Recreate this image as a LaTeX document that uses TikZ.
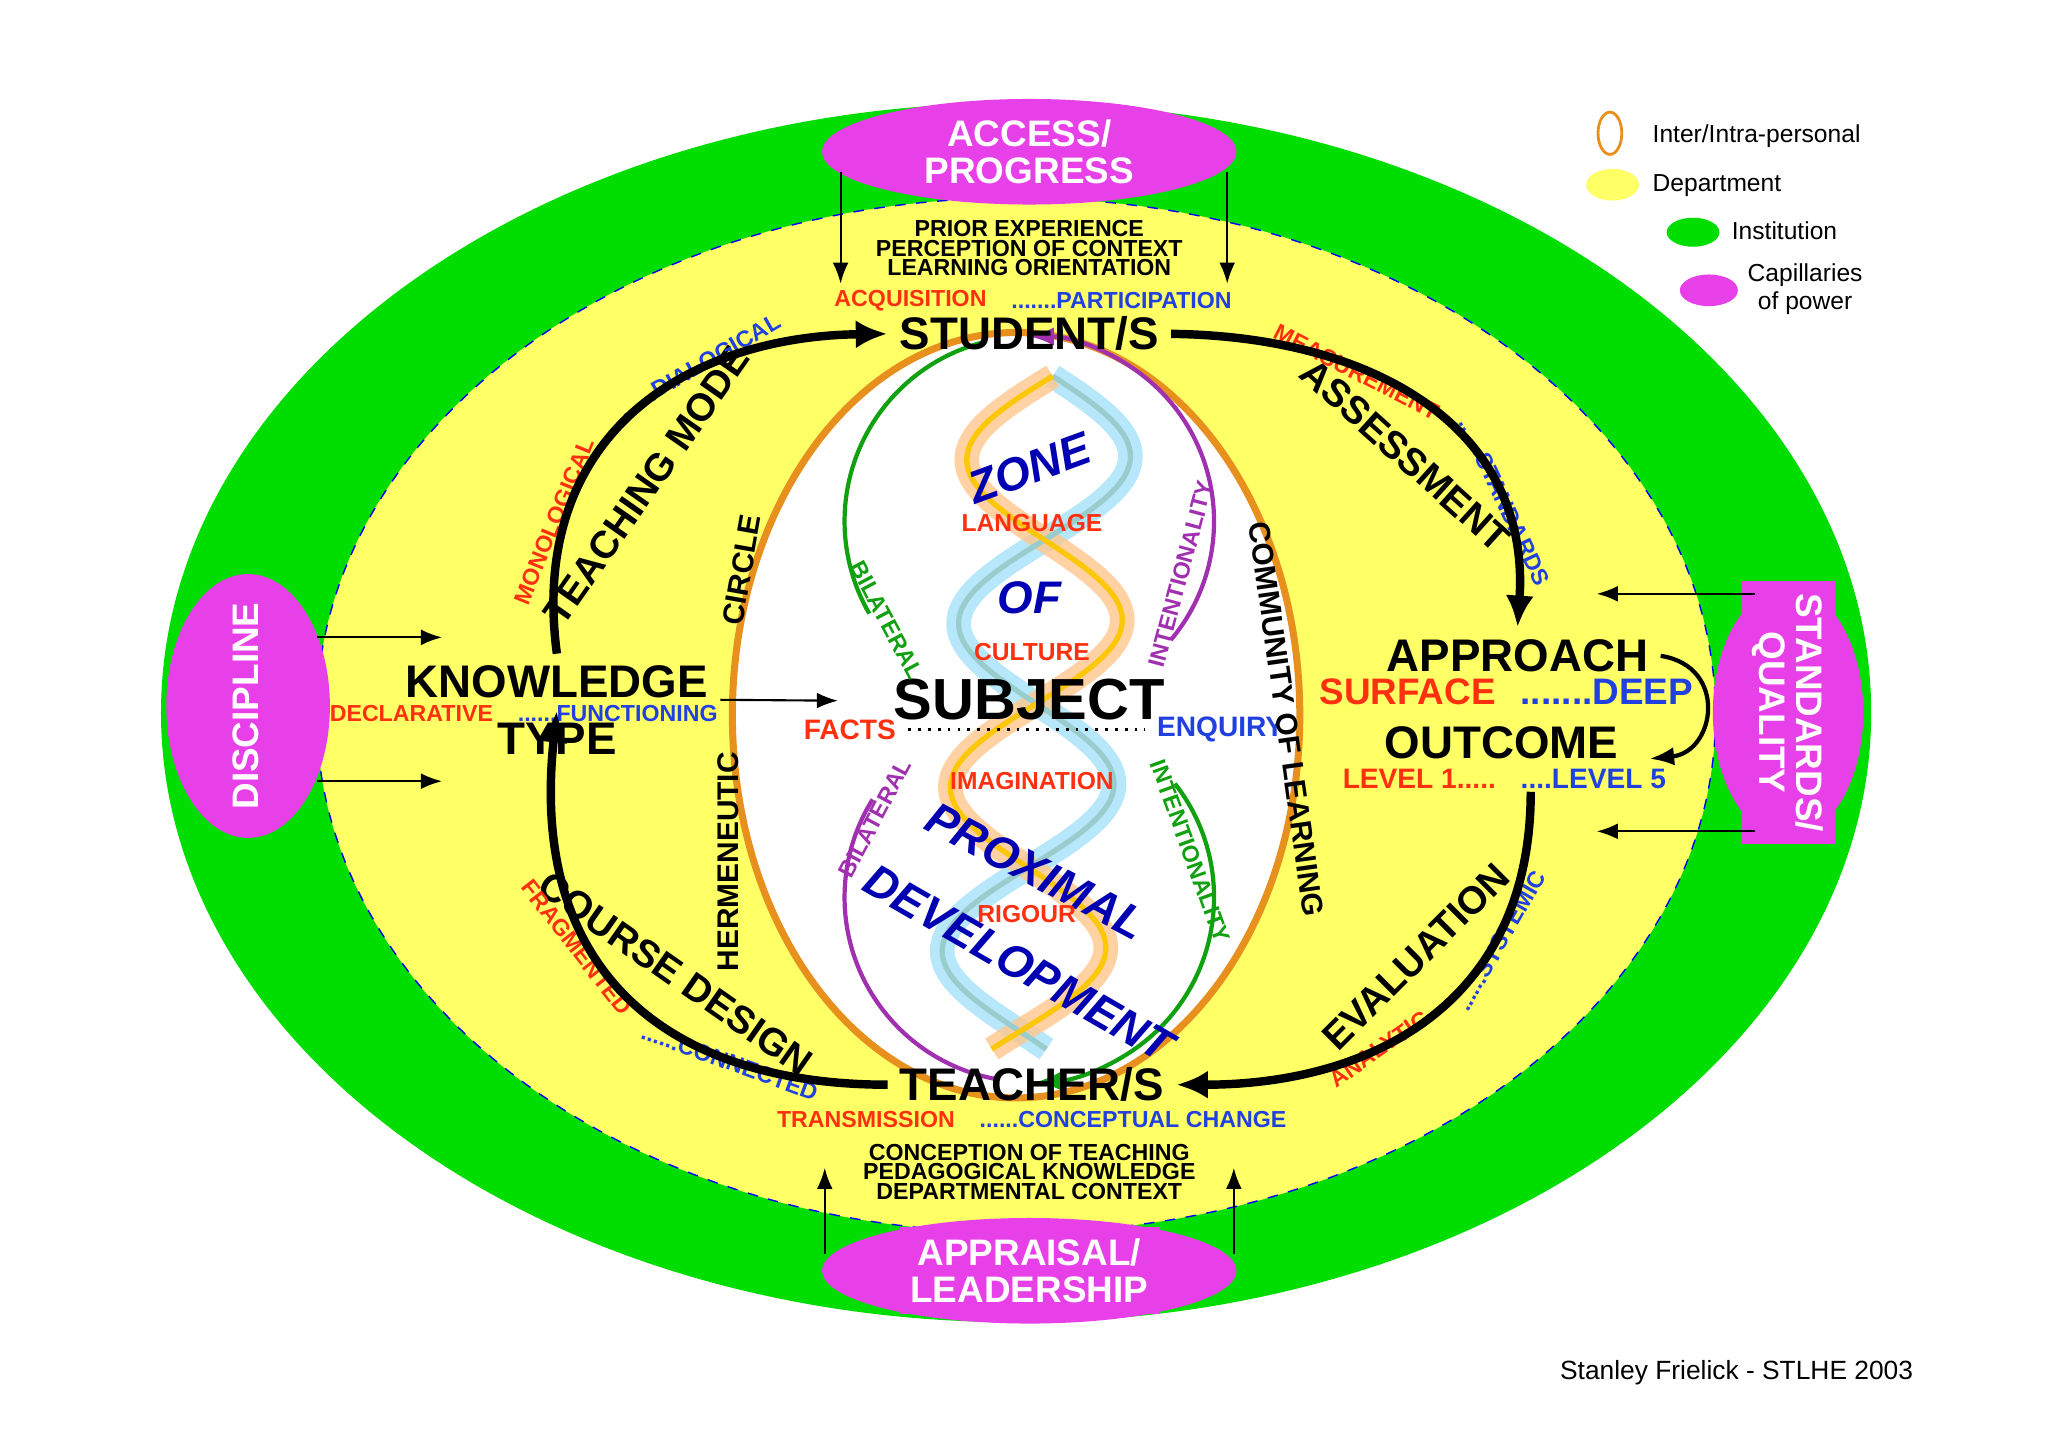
\documentclass[tikz,border=0pt]{standalone}
\usepackage{fontspec}
\setmainfont{Liberation Sans}
\usetikzlibrary{arrows.meta}
\definecolor{inst}{HTML}{00DD00}
\definecolor{dept}{HTML}{FFFF66}
\definecolor{pers}{HTML}{E8901E}
\definecolor{power}{HTML}{E840E8}
\definecolor{tblue}{HTML}{2040E0}
\definecolor{tred}{HTML}{FF3010}
\definecolor{tpurple}{HTML}{A030B0}
\definecolor{tgreen}{HTML}{10A010}
\newcommand{\fsz}[1]{\bfseries\fontsize{#1}{#1}\selectfont}
\begin{document}
\begin{tikzpicture}[x=0.0132cm,y=-0.0132cm,
  small/.style={font=\fsz{6.6}, align=center},
  mid/.style={font=\fsz{13}},
  big/.style={font=\fsz{16.5}},
  blu/.style={small, text=tblue},
  rd/.style={small, text=tred},
  dna/.style={font=\fsz{13}\itshape, text=blue!70!black},
  dnared/.style={font=\fsz{7}, text=tred},
  power/.style={fill=power, draw=none, text=white, font=\fsz{10.5}, align=center},
  flow/.style={line width=2.4pt, -{Latex[length=9pt,width=8pt]}},
  feed/.style={line width=0.6pt, -{Latex[length=6pt]}}]
  \useasboundingbox (0,0) rectangle (1552,1097);
  % layers
  \fill[inst] (770,540) ellipse [x radius=648, y radius=462];
  \filldraw[fill=dept, draw=blue, dashed, thin] (770,542) ellipse [x radius=530, y radius=392];
  \filldraw[fill=white, draw=pers, line width=2pt] (770,542) ellipse [x radius=215, y radius=290];
  % helix
  \foreach \ph/\col in {0/cyan!35, 180/orange!45}
    \draw[line width=7pt, \col, opacity=0.8] plot[domain=285:795, samples=80, smooth] ({785+62*sin((\x-285)*1.45+\ph)-0.05*(\x-540)}, \x);
  \foreach \ph/\col in {0/teal!40, 180/yellow!60!orange}
    \draw[line width=1.5pt, \col] plot[domain=285:795, samples=80, smooth] ({785+62*sin((\x-285)*1.45+\ph)-0.05*(\x-540)}, \x);
  % cycles round the helix
  \draw[tgreen, line width=1.2pt] (780,395) ++(255:140) arc[start angle=255, end angle=150, radius=140];
  \draw[tpurple, line width=1.2pt, -{Latex[length=7pt]}] (780,395) ++(40:140) arc[start angle=40, end angle=-90, radius=140];
  \draw[tpurple, line width=1.2pt] (780,680) ++(212:140) arc[start angle=212, end angle=100, radius=140];
  \draw[tgreen, line width=1.2pt, -{Latex[length=7pt]}] (780,680) ++(-38:140) arc[start angle=-38, end angle=88, radius=140];
  % capillaries of power
  \fill[power] (780,115) ellipse [x radius=157, y radius=40];
  \fill[power] (780,963) ellipse [x radius=157, y radius=40];
  \fill[power] (188,535) ellipse [x radius=62, y radius=100];
  \fill[power] (1355,540) ellipse [x radius=57, y radius=95];
  \node[power] (access) at (780,115) {ACCESS/\\PROGRESS};
  \node[power] (apprais) at (780,963) {APPRAISAL/\\LEADERSHIP};
  \node[power, rotate=90] (disc) at (186,535) {DISCIPLINE};
  \node[power, rotate=-90] (stand) at (1355,540) {STANDARDS/\\QUALITY};
  % student
  \node[small] (prior) at (780,188) {PRIOR EXPERIENCE\\[-1pt]PERCEPTION OF CONTEXT\\[-1pt]LEARNING ORIENTATION};
  \node[rd, anchor=east] (acq) at (757,228) {ACQUISITION};
  \node[blu, anchor=west] (part) at (757,228) {.......PARTICIPATION};
  \node[mid] (stud) at (780,253) {STUDENT/S};
  % teacher
  \node[mid] (teach) at (782,822) {TEACHER/S};
  \node[rd, anchor=east] (trans) at (733,848) {TRANSMISSION};
  \node[blu, anchor=west] (conc) at (733,848) {......CONCEPTUAL CHANGE};
  \node[small] (concep) at (780,888) {CONCEPTION OF TEACHING\\[-1pt]PEDAGOGICAL KNOWLEDGE\\[-1pt]DEPARTMENTAL CONTEXT};
  % knowledge
  \node[mid] (know) at (422,517) {KNOWLEDGE};
  \node[mid] (type) at (422,560) {TYPE};
  \node[rd, anchor=east] (decl) at (383,541) {DECLARATIVE};
  \node[blu, anchor=west] (func) at (383,541) {......FUNCTIONING};
  % approach
  \node[mid] (appr) at (1150,497) {APPROACH};
  \node[mid, text=tred, font=\fsz{10.5}, anchor=east] (surf) at (1143,524) {SURFACE};
  \node[mid, text=tblue, font=\fsz{10.5}, anchor=west] (deep) at (1143,524) {.......DEEP};
  \node[mid] (outc) at (1138,563) {OUTCOME};
  \node[rd, font=\fsz{8}, anchor=east] (lev1) at (1143,590) {LEVEL 1.....};
  \node[blu, font=\fsz{8}, anchor=west] (lev5) at (1143,590) {....LEVEL 5};
  % subject
  \node[big] (subj) at (780,530) {SUBJECT};
  \node[rd, font=\fsz{8}] (facts) at (644,553) {FACTS};
  \node[blu, font=\fsz{8}] (enq) at (925,553) {ENQUIRY};
  \draw[dotted, thick] (facts.east) -- (enq.west);
  \node[dna, rotate=20] (zone) at (780,355) {ZONE};
  \node[dnared] (lang) at (782,396) {LANGUAGE};
  \node[dna] (of) at (780,453) {OF};
  \node[dnared] (cult) at (782,494) {CULTURE};
  \node[dnared] (imag) at (782,592) {IMAGINATION};
  \node[dna, rotate=-28] (prox) at (785,660) {PROXIMAL};
  \node[dnared] (rig) at (778,693) {RIGOUR};
  \node[dna, rotate=-30] (devel) at (772,730) {DEVELOPMENT};
  \node[small, text=tgreen, rotate=-62] at (672,470) {BILATERAL};
  \node[small, text=tpurple, rotate=75] at (895,435) {INTENTIONALITY};
  \node[small, text=tpurple, rotate=62] at (663,620) {BILATERAL};
  \node[small, text=tgreen, rotate=-70] at (902,645) {INTENTIONALITY};
  \node[mid, font=\fsz{8.5}, rotate=80] at (562,432) {CIRCLE};
  \node[mid, font=\fsz{8.5}, rotate=90] at (552,653) {HERMENEUTIC};
  \node[mid, font=\fsz{8.5}, rotate=-82] at (975,545) {COMMUNITY OF LEARNING};
  % arc labels
  \node[mid, font=\fsz{11}, rotate=55] at (490,368) {TEACHING MODE};
  \node[rd, rotate=68] at (420,395) {MONOLOGICAL};
  \node[blu, rotate=30] at (530,277) {......DIALOGICAL};
  \node[mid, font=\fsz{11}, rotate=-42] at (1065,345) {ASSESSMENT};
  \node[rd, rotate=-27] at (1028,282) {MEASUREMENT};
  \node[blu, rotate=-65] at (1140,380) {......STANDARDS};
  \node[mid, font=\fsz{11}, rotate=45] at (1073,725) {EVALUATION};
  \node[rd, rotate=35] at (1045,795) {ANALYTIC};
  \node[blu, rotate=60] at (1137,713) {......SYSTEMIC};
  \node[mid, font=\fsz{11}, rotate=-35] at (512,738) {COURSE DESIGN};
  \node[rd, rotate=-52] at (437,718) {FRAGMENTED};
  \node[blu, rotate=-20] at (553,805) {......CONNECTED};
  % main cycle
  \draw[flow] (know.north) .. controls (400,330) and (520,255) .. (stud.west);
  \draw[flow] (stud.east) .. controls (1050,255) and (1160,330) .. (appr.north);
  \draw[flow] (1160,600) .. controls (1160,760) and (1040,822) .. (teach.east);
  \draw[flow] (teach.west) .. controls (510,822) and (400,740) .. (type.north);
  \draw[line width=1.2pt, -{Latex[length=7pt]}] (appr.east) .. controls (1310,505) and (1300,570) .. (1250,575);
  \draw[feed] ([yshift=-5pt]know.east) -- (635,531);
  % feeds from the capillaries
  \draw[feed] (637,130) -- (637,215);
  \draw[feed] (930,130) -- (930,215);
  \draw[feed] (625,950) -- (625,885);
  \draw[feed] (935,950) -- (935,885);
  \draw[feed] (240,483) -- (335,483);
  \draw[feed] (240,592) -- (335,592);
  \draw[feed] (1330,450) -- (1210,450);
  \draw[feed] (1330,630) -- (1210,630);
  % legend
  \tikzset{leg/.style={font=\fontsize{7}{8}\selectfont, align=center, anchor=west}}
  \draw[pers, thick] (1220,101) ellipse [x radius=9, y radius=16];
  \node[leg] (l1) at (1243,103) {Inter/Intra-personal};
  \fill[dept] (1222,140) ellipse [x radius=20, y radius=12];
  \node[leg] (l2) at (1243,141) {Department};
  \fill[inst] (1283,176) ellipse [x radius=20, y radius=11];
  \node[leg] (l3) at (1303,175) {Institution};
  \fill[power] (1295,220) ellipse [x radius=22, y radius=12];
  \node[leg] (l4) at (1315,219) {Capillaries\\of power};
  \node[font=\fontsize{7.5}{9}\selectfont] (credit) at (1316,1040) {Stanley Frielick - STLHE 2003};
\end{tikzpicture}
\end{document}
